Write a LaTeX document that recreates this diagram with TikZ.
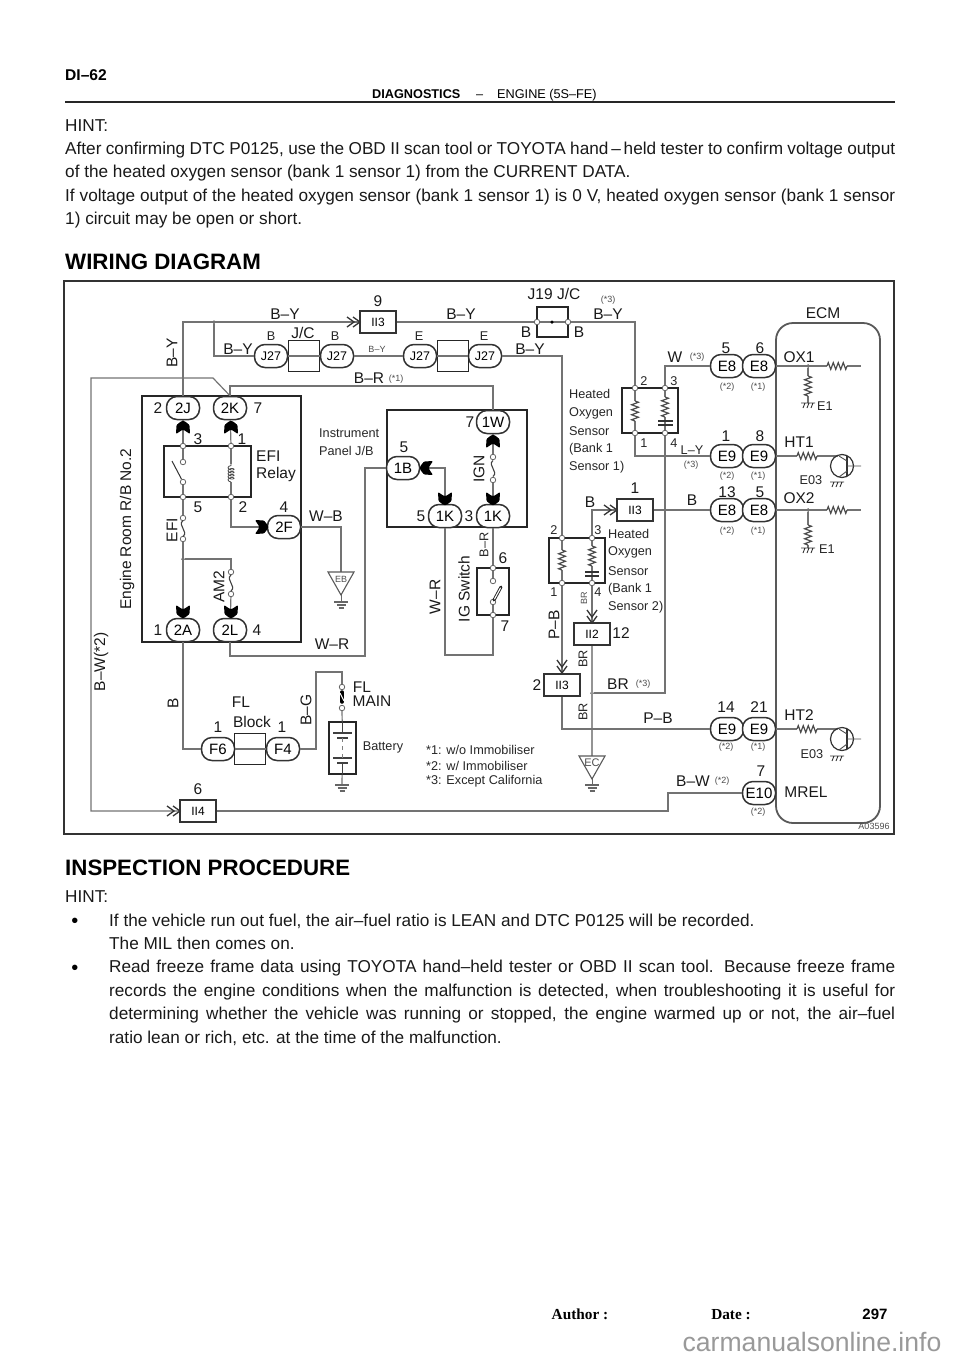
\documentclass[tikz,border=0pt]{standalone}
\usepackage{fontspec}
\setmainfont{Liberation Sans}
\newfontfamily\timesfont{Liberation Serif}
\usetikzlibrary{decorations.pathmorphing}
\newcommand{\fsz}[1]{\fontsize{#1}{#1}\selectfont}
\hyphenpenalty=10000

\tikzset{
  wire/.style = {line width = 1.2pt, draw = black!55},
  thickwire/.style = {line width = 1.7pt, draw = black!42},
  panel/.style = {line width = 1.5pt, draw = black!85},
  conn/.style = {draw = black!80, line width = 1.5pt, fill = white, rounded corners = 10.5pt,
    minimum width = 33pt, minimum height = 23pt, inner sep = 0pt, font = \fsz{15}},
  connj/.style = {conn, font = \fsz{12.5}},
  boxconn/.style = {draw = black!80, line width = 1.5pt, fill = white, minimum width = 36pt,
    minimum height = 22pt, inner sep = 0pt, font = \fsz{12}},
  jbox/.style = {draw = black!85, line width = 1.5pt, minimum width = 31pt, minimum height = 31pt},
  term/.style = {circle, draw = black!60, line width = .8pt, fill = white, minimum size = 5.5pt, inner sep = 0pt},
  dot/.style = {circle, fill = black, minimum size = 3.5pt, inner sep = 0pt},
  lab/.style = {inner sep = 0pt, font = \fsz{15.5}, text = black!90},
  labm/.style = {inner sep = 0pt, font = \fsz{12.7}, text = black!85},
  labs/.style = {inner sep = 0pt, font = \fsz{9}, text = black!70},
  body/.style = {inner sep = 0pt, anchor = north west, font = \fontsize{17.2}{23.4}\selectfont, text = black!90},
  % connector marks, all pointing along +x with the origin at the tip
  chev/.pic = {
    \draw[line width = 1.3pt, black!80] (-7,-5) -- (0,0) -- (-7,5) (-13,-5) -- (-6,0) -- (-13,5);
  },
  bhead/.pic = {
    \fill[black, rounded corners = 1pt] (0,-1.5) -- (-4,-6.5) -- (-13,-7) -- (-9,-1) -- (-9,1) -- (-13,7) -- (-4,6.5) -- (0,1.5) -- cycle;
  },
  res/.pic = {
    \draw[white, line width = 2.4pt] (-10,0) -- (10,0);
    \draw[line width = 1.2pt, black!70, decorate, decoration = {zigzag, segment length = 5pt, amplitude = 3.4pt}] (-10,0) -- (10,0);
  },
  fuse/.pic = {
    \draw[line width = 1.1pt, black!75] (-8,0) .. controls (-3,6) and (3,-6) .. (8,0);
  },
  coilp/.pic = {
    \draw[white, line width = 2.4pt] (-9,0) -- (9,0);
    \draw[line width = .8pt, black!70, decorate, decoration = {coil, segment length = 3pt, amplitude = 3pt}] (-9,0) -- (9,0);
  },
  gnd/.pic = {
    \draw[line width = 1.1pt, black!60] (-7,0) -- (7,0) (-4.5,3) -- (4.5,3) (-2.5,6) -- (2.5,6);
  },
  hatchg/.pic = {
    \draw[line width = .9pt, black!80] (-7,0) -- (7,0) (-3,0) -- (-5,5) (1,0) -- (-1,5) (5,0) -- (3,5);
  },
  gtri/.pic = {
    \draw[line width = 1.1pt, black!65] (-13,0) -- (13,0) -- (0,23) -- cycle;
    \draw[line width = 1pt, black!60] (0,23) -- (0,30);
  },
  tran/.pic = {
    \draw[line width = 1.2pt, black!80] (0,0) circle (11.5pt);
    \draw[line width = 1.3pt, black!80] (5,-10) -- (5,10);
    \draw[line width = .9pt, black!70] (5,0) -- (19,0) (5,-5) -- (-3,-10) (5,5) -- (-3,11);
  }
}

\begin{document}
\begin{tikzpicture}[x = 1pt, y = -1pt]
  \useasboundingbox (0,0) rectangle (960,1358);

  % page head
  \node[inner sep = 0pt, anchor = west, font = \fsz{15.6}\bfseries] (head) at (65,75) {DI–62};
  \node[inner sep = 0pt, anchor = base west, font = \fsz{12.7}\bfseries] (headb) at (372,98.5) {DIAGNOSTICS};
  \node[inner sep = 0pt, anchor = base west, font = \fsz{12.7}] (headc) at (476,98.5) {–};
  \node[inner sep = 0pt, anchor = base west, font = \fsz{12.7}] (headd) at (497,98.5) {ENGINE (5S–FE)};
  \coordinate (ruleL) at (65,102);
  \coordinate (ruleR) at (895,102);
  \draw[line width = 1.5pt, black!85] (ruleL) -- (ruleR);
  \node[body, text width = 830pt, align = justify] (hint) at (65,119) {HINT:\\
    After confirming DTC P0125, use the OBD II scan tool or TOYOTA hand\,–\,held tester to confirm voltage output\linebreak
    of the heated oxygen sensor (bank 1 sensor 1) from the CURRENT DATA.\\
    If voltage output of the heated oxygen sensor (bank 1 sensor 1) is 0 V, heated oxygen sensor (bank 1 sensor\linebreak
    1) circuit may be open or short.};
  \node[inner sep = 0pt, anchor = west, font = \fsz{22.3}\bfseries] (wirhead) at (65,262) {WIRING DIAGRAM};

  % frame and big boxes
  \draw[line width = 1.4pt, black!80] (64,281) rectangle (894,834);
  \draw[panel] (142,396) rectangle (301,642);
  \draw[panel] (164,446) rectangle (251,497);
  \draw[panel] (387,410) rectangle (527,527);
  \draw[panel] (477,568) rectangle (509,615);
  \draw[panel] (622,388) rectangle (678,433);
  \draw[panel] (549,538) rectangle (605,583);
  \draw[panel] (537,307) rectangle (568,337);
  \draw[line width = 1.8pt, black!65, rounded corners = 17pt] (776,323) rectangle (880,823);

  % oval connectors
  \node[conn] (n2J) at (183,408) {2J};
  \node[conn] (n2K) at (230,408) {2K};
  \node[conn] (n2A) at (183,630) {2A};
  \node[conn] (n2L) at (230,630) {2L};
  \node[conn] (n2F) at (284,527) {2F};
  \node[conn] (n1W) at (493,422) {1W};
  \node[conn] (n1B) at (403,468) {1B};
  \node[conn] (n1Ka) at (445,516) {1K};
  \node[conn] (n1Kb) at (493,516) {1K};
  \node[conn] (nF6) at (218,749) {F6};
  \node[conn] (nF4) at (283,749) {F4};
  \node[connj] (nJa) at (271,356) {J27};
  \node[connj] (nJb) at (337,356) {J27};
  \node[connj] (nJc) at (420,356) {J27};
  \node[connj] (nJd) at (485,356) {J27};
  \node[conn] (nE8a) at (727,366) {E8};
  \node[conn] (nE8b) at (759,366) {E8};
  \node[conn] (nE9a) at (727,456) {E9};
  \node[conn] (nE9b) at (759,456) {E9};
  \node[conn] (nE8c) at (727,510) {E8};
  \node[conn] (nE8d) at (759,510) {E8};
  \node[conn] (nE9c) at (727,729) {E9};
  \node[conn] (nE9d) at (759,729) {E9};
  \node[conn] (nE10) at (759,793) {E10};

  % square connectors
  \node[boxconn] (nII3a) at (378,322) {II3};
  \node[boxconn] (nII3b) at (635,510) {II3};
  \node[boxconn] (nII3c) at (562,685) {II3};
  \node[boxconn] (nII2) at (592,634) {II2};
  \node[boxconn] (nII4) at (198,811) {II4};
  \node[jbox] (nJCa) at (304,356) {};
  \node[jbox] (nJCb) at (453,356) {};
  \node[jbox] (nFL) at (250,749) {};
  \node[draw = black!85, line width = 1.3pt, minimum width = 27pt, minimum height = 52pt, inner sep = 0pt] (nBat) at (342.5,748) {};

  % terminals and junctions
  \node[term] (tR3) at (183,446) {};
  \node[term] (tR1) at (231,446) {};
  \node[term] (tR5) at (183,497) {};
  \node[term] (tR2) at (231,497) {};
  \node[term] (tSwa) at (183,462) {};
  \node[term] (tSwb) at (183,482) {};
  \node[term] (tFa) at (183,518) {};
  \node[term] (tFb) at (183,539) {};
  \node[term] (tAa) at (231,572) {};
  \node[term] (tAb) at (231,594) {};
  \node[term] (tIa) at (493,457) {};
  \node[term] (tIb) at (493,480) {};
  \node[term] (tGa) at (493,568) {};
  \node[term] (tGb) at (493,615) {};
  \node[term] (tGc) at (493,581) {};
  \node[term] (tGd) at (493,602) {};
  \node[term] (tMa) at (342,687) {};
  \node[term] (tMb) at (342,708) {};
  \node[term] (tJa) at (537,322) {};
  \node[term] (tJb) at (568,322) {};
  \node[term] (tS2) at (635,388) {};
  \node[term] (tS3) at (665,388) {};
  \node[term] (tS1) at (635,433) {};
  \node[term] (tS4) at (665,433) {};
  \node[term] (tT2) at (562,538) {};
  \node[term] (tT3) at (592,538) {};
  \node[term] (tT1) at (562,583) {};
  \node[term] (tT4) at (592,583) {};
  \node[dot] (dBY) at (214,322) {};
  \node[dot] (dRB) at (183,559) {};
  \node[dot] (dBR) at (592,693) {};
  \node[dot] (dOa) at (808,366) {};
  \node[dot] (dOb) at (808,510) {};

  % free ends and corners
  \coordinate (cBR) at (493,386);
  \coordinate (cLa) at (91,811);
  \coordinate (cLb) at (91,378);
  \coordinate (cLc) at (213,378);
  \coordinate (cEB) at (341,572);
  \coordinate (cWR) at (365,656);
  \coordinate (cIG) at (493,655);
  \coordinate (cFLa) at (316,672);
  \coordinate (cBW) at (668,811);
  \coordinate (cEC) at (592,756);
  \coordinate (cBg) at (342,785);
  \coordinate (cOa) at (861,366);
  \coordinate (cOb) at (861,510);
  \coordinate (cGa) at (808,403);
  \coordinate (cGb) at (808,548);
  \coordinate (cHa) at (838,456);
  \coordinate (cHb) at (838,729);

  % wires
  \draw[wire] (n2J.north) |- (nII3a.west);
  \draw[wire] (dBY) |- (nJa.west);
  \draw[wire] (nJa) -- (nJb);
  \draw[wire] (nJb) -- (nJc);
  \draw[wire] (nJc) -- (nJd);
  \draw[wire] (nJd.east) -| (tT2);
  \draw[wire] (nII3a) -- (tJa);
  \draw[wire] (tJa) -- (tJb);
  \node[dot] (dJ) at (552,322) {};
  \draw[wire] (tJb) -| (tS2);
  \draw[wire] (nE8a.west) -| (tS3);
  \draw[wire] (tS2) -- (tS1);
  \draw[wire] (tS3) -- (tS4);
  \draw[wire] (tS1) |- (nE9a.west);
  \draw[wire] (tS4) |- (dBR);
  \draw[wire] (tT2) -- (tT1);
  \draw[wire] (tT3) -- (tT4);
  \draw[wire] (tT3) |- (nII3b.west);
  \draw[wire] (nII3b) -- (nE8c);
  \draw[wire] (tT4) -- (nII2);
  \draw[thickwire] (nII2) -- (cEC);
  \draw[wire] (tT1) -- (nII3c);
  \draw[wire] (nII3c.south) |- (nE9c.west);
  \draw[wire] (nE10) -| (cBW) -- (nII4);
  \draw[wire] (nII4) -- (cLa) -- (cLb) -- (cLc) -- (n2K.north);
  \draw[wire] (n2K.north) |- (cBR) -- (n1W);
  \draw[wire] (n2J) -- (tR3);
  \draw[wire] (tR3) -- (tSwa);
  \draw[wire] (tSwb) -- (tR5);
  \draw[wire] (tR5) -- (tFa);
  \draw[wire] (tFb) -- (n2A);
  \draw[wire] (n2K) -- (tR1);
  \draw[wire] (tR1) -- (tR2);
  \draw[wire] (tR2) |- (n2F.west);
  \draw[wire] (dRB) -| (tAa);
  \draw[wire] (tAb) -- (n2L);
  \draw[wire] (n2F.east) -| (cEB);
  \draw[wire] (n2L.south) |- (cWR) |- (n1B.west);
  \draw[wire] (n1Ka.north) |- (n1B.east);
  \draw[wire] (n1W) -- (tIa);
  \draw[wire] (tIb) -- (n1Kb);
  \draw[wire] (n1Ka.south) |- (cIG) -- (tGb);
  \draw[wire] (n1Kb) -- (tGa);
  \draw[wire] (tGa) -- (tGc);
  \draw[wire] (tGd) -- (tGb);
  \draw[wire] (n2A.south) |- (nF6.west);
  \draw[wire] (nF6) -- (nF4);
  \draw[wire] (nF4.east) -| (cFLa) -| (tMa);
  \draw[wire] (tMb) -- (nBat);
  \draw[wire] (nBat) -- (cBg);
  \draw[wire] (nE8b) -- (cOa);
  \draw[wire] (dOa) -- (cGa);
  \draw[wire] (nE9b) -- (cHa);
  \draw[wire] (nE8d) -- (cOb);
  \draw[wire] (dOb) -- (cGb);
  \draw[wire] (nE9d) -- (cHb);

  % connector marks
  \pic at (360,322) {chev};
  \pic at (617,510) {chev};
  \pic at (180,811) {chev};
  \pic[rotate = -90] at (592,623) {chev};
  \pic[rotate = -90] at (562,673) {chev};
  \pic[rotate = 90] at (183,421) {bhead};
  \pic[rotate = 90] at (231,421) {bhead};
  \pic[rotate = -90] at (183,618) {bhead};
  \pic[rotate = -90] at (231,618) {bhead};
  \pic at (268,527) {bhead};
  \pic[rotate = 90] at (493,435) {bhead};
  \pic[rotate = -90] at (493,505) {bhead};
  \pic[rotate = -90] at (445,505) {bhead};
  \pic[rotate = 180] at (420,468) {bhead};

  % parts
  \pic[rotate = 90] at (635,411) {res};
  \pic[rotate = 90] at (665,407) {res};
  \pic[rotate = 90] at (562,560) {res};
  \pic[rotate = 90] at (592,556) {res};
  \pic[rotate = 90] at (231,473) {coilp};
  \pic at (837,366) {res};
  \pic[rotate = 90] at (808,386) {res};
  \pic at (807,456) {res};
  \pic at (837,510) {res};
  \pic[rotate = 90] at (808,535) {res};
  \pic at (807,729) {res};
  \pic[rotate = 90] at (183,528.5) {fuse};
  \pic[rotate = 90] at (231,583) {fuse};
  \pic[rotate = 90] at (493,468.5) {fuse};
  \pic at (842,466) {tran};
  \pic at (842,739) {tran};
  \pic at (cEB) {gtri};
  \pic at (cEC) {gtri};
  \pic at (341,602) {gnd};
  \pic at (592,785) {gnd};
  \pic at (cBg) {gnd};
  \pic at (cGa) {hatchg};
  \pic at (cGb) {hatchg};
  \pic at (837,482) {hatchg};
  \pic at (837,756) {hatchg};
  \draw[line width = 1.1pt, black!80] (658,421) -- (673,421) (658,425) -- (673,425);
  \draw[line width = 1.1pt, black!80] (585,572) -- (599,572) (585,576) -- (599,576);
  \draw[line width = 1pt, black!80] (tSwb) -- (172,461);
  \draw[line width = 3pt, black!85, line cap = round] (494,600) -- (501,587);
  \draw[line width = 1.1pt, white, line cap = round] (494.5,599) -- (500.5,588);
  \draw[line width = 3.5pt, black, line cap = round] (342,692) -- (342,702);
  \draw[line width = 1pt, white] (340,693) -- (344,701);
  \draw[line width = 1pt, black!75] (342,722) -- (342,733) (342,763) -- (342,774);
  \draw[line width = 1.4pt, black!75] (333,733) -- (352,733) (333,758) -- (352,758);
  \draw[line width = 1.4pt, black!75] (337,738) -- (348,738) (337,763) -- (348,763);
  \draw[line width = 1pt, black!50, dash pattern = on 4pt off 4pt] (342,738) -- (342,758);

  % wire colours, big
  \node[lab] (lbY) at (285,314) {B–Y};
  \node[lab, rotate = 90] (lbYb) at (172,353) {B–Y};
  \node[lab] (lbYc) at (238,349) {B–Y};
  \node[lab] (lbYd) at (461,314) {B–Y};
  \node[lab] (lbYe) at (608,314) {B–Y};
  \node[lab] (lbYf) at (530,349) {B–Y};
  \node[lab] (lbR) at (369,378) {B–R};
  \node[lab] (lWB) at (326,516) {W–B};
  \node[lab] (lWR) at (332,644) {W–R};
  \node[lab, rotate = 90] (lWRb) at (435,597) {W–R};
  \node[lab, rotate = 90] (lBG) at (306,710) {B–G};
  \node[lab, rotate = 90] (lB) at (173,703) {B};
  \node[lab, rotate = 90] (lBW) at (101,662) {B–W(*2)};
  \node[lab, rotate = 90] (lPB) at (554,625) {P–B};
  \node[lab] (lPBb) at (658,718) {P–B};
  \node[lab] (lBRa) at (618,684) {BR};
  \node[lab] (lW) at (675,357) {W};
  \node[lab] (lBa) at (590,502) {B};
  \node[lab] (lBb) at (692,500) {B};
  \node[lab] (lBWb) at (693,781) {B–W};
  \node[labm] (lLY) at (692,450) {L–Y};
  \node[labm, rotate = 90] (lBRb) at (583,659) {BR};
  \node[labm, rotate = 90] (lBRc) at (583,712) {BR};
  \node[labm, rotate = 90] (lBRd) at (484,545) {B–R};
  \node[labs, rotate = 90] (lBRe) at (584,598) {BR};
  \node[labs] (lBYs) at (377,349) {B–Y};

  % names
  \node[lab, rotate = 90] (lRB) at (127,529) {Engine Room R/B No.2};
  \node[lab, rotate = 90] (lIG) at (464,589) {IG Switch};
  \node[lab, anchor = west] (lEFIa) at (256,456) {EFI};
  \node[lab, anchor = west] (lEFIb) at (256,474) {Relay};
  \node[lab, rotate = 90] (lEFI) at (172,530) {EFI};
  \node[lab, rotate = 90] (lAM) at (219,587) {AM2};
  \node[lab, rotate = 90] (lIGN) at (479,469) {IGN};
  \node[lab] (lJC) at (303,333) {J/C};
  \node[lab] (lJ19) at (554,294) {J19 J/C};
  \node[lab] (lECM) at (823,313) {ECM};
  \node[lab] (lFLb) at (241,702) {FL};
  \node[lab] (lBlock) at (252,722) {Block};
  \node[lab] (lFLm) at (362,687) {FL};
  \node[lab] (lMain) at (372,701) {MAIN};
  \node[lab] (lOXa) at (799,357) {OX1};
  \node[lab] (lHTa) at (799,442) {HT1};
  \node[lab] (lOXb) at (799,498) {OX2};
  \node[lab] (lHTb) at (799,715) {HT2};
  \node[lab] (lMREL) at (806,792) {MREL};
  \node[labm, anchor = west] (lInsa) at (319,433) {Instrument};
  \node[labm, anchor = west] (lInsb) at (319,451) {Panel J/B};
  \node[labm] (lBat) at (383,747) {Battery};
  \node[labm, anchor = west] (lKa) at (426,750) {*1: w/o Immobiliser};
  \node[labm, anchor = west] (lKb) at (426,766) {*2: w/ Immobiliser};
  \node[labm, anchor = west] (lKc) at (426,781) {*3: Except California};
  \node[labm, anchor = west] (lSa1) at (569,394) {Heated};
  \node[labm, anchor = west] (lSa2) at (569,413) {Oxygen};
  \node[labm, anchor = west] (lSa3) at (569,431) {Sensor};
  \node[labm, anchor = west] (lSa4) at (569,449) {(Bank 1};
  \node[labm, anchor = west] (lSa5) at (569,467) {Sensor 1)};
  \node[labm, anchor = west] (lSb1) at (608,534) {Heated};
  \node[labm, anchor = west] (lSb2) at (608,552) {Oxygen};
  \node[labm, anchor = west] (lSb3) at (608,571) {Sensor};
  \node[labm, anchor = west] (lSb4) at (608,589) {(Bank 1};
  \node[labm, anchor = west] (lSb5) at (608,607) {Sensor 2)};
  \node[labm] (lE1a) at (825,406) {E1};
  \node[labm] (lE1b) at (827,549) {E1};
  \node[labm] (lE3a) at (811,480) {E03};
  \node[labm] (lE3b) at (812,754) {E03};
  \node[labm] (lJBa) at (271,336) {B};
  \node[labm] (lJBb) at (335,336) {B};
  \node[labm] (lJEa) at (419,336) {E};
  \node[labm] (lJEb) at (484,336) {E};
  \node[lab] (lBc) at (526,332) {B};
  \node[lab] (lBd) at (579,332) {B};
  \node[labs] (lEB) at (341,579) {EB};
  \node[labs, font = \fsz{11}] (lEC) at (592,763) {EC};
  \node[labs] (lA03) at (874,826) {A03596};

  % pin numbers
  \node[lab] (p9) at (378,301) {9};
  \node[lab] (p2J) at (158,408) {2};
  \node[lab] (p7) at (258,408) {7};
  \node[lab] (p3) at (198,439) {3};
  \node[lab] (p1) at (242,439) {1};
  \node[lab] (p5) at (198,507) {5};
  \node[lab] (p2) at (243,507) {2};
  \node[lab] (p4) at (284,507) {4};
  \node[lab] (p1A) at (158,630) {1};
  \node[lab] (p4L) at (257,630) {4};
  \node[lab] (p1F) at (218,727) {1};
  \node[lab] (p1G) at (282,727) {1};
  \node[lab] (p6) at (198,789) {6};
  \node[lab] (p7W) at (470,422) {7};
  \node[lab] (p5B) at (404,447) {5};
  \node[lab] (p5K) at (421,516) {5};
  \node[lab] (p3K) at (469,516) {3};
  \node[lab] (p6G) at (503,558) {6};
  \node[lab] (p7G) at (505,626) {7};
  \node[lab] (p1I) at (635,488) {1};
  \node[lab] (p12) at (621,633) {12};
  \node[lab] (p2I) at (537,685) {2};
  \node[lab] (p5E) at (726,348) {5};
  \node[lab] (p6E) at (760,348) {6};
  \node[lab] (p1E) at (726,436) {1};
  \node[lab] (p8E) at (760,436) {8};
  \node[lab] (p13) at (727,492) {13};
  \node[lab] (p5F) at (760,492) {5};
  \node[lab] (p14) at (726,707) {14};
  \node[lab] (p21) at (759,707) {21};
  \node[lab] (p7E) at (761,771) {7};
  \node[labm] (pS2) at (644,381) {2};
  \node[labm] (pS3) at (674,381) {3};
  \node[labm] (pS1) at (644,443) {1};
  \node[labm] (pS4) at (674,443) {4};
  \node[labm] (pT2) at (554,530) {2};
  \node[labm] (pT3) at (598,530) {3};
  \node[labm] (pT1) at (554,592) {1};
  \node[labm] (pT4) at (598,592) {4};

  % footnote marks
  \node[labs] (fa) at (396,379) {(*1)};
  \node[labs] (fb) at (608,300) {(*3)};
  \node[labs] (fc) at (697,357) {(*3)};
  \node[labs] (fd) at (691,465) {(*3)};
  \node[labs] (fe) at (643,684) {(*3)};
  \node[labs] (ff) at (722,781) {(*2)};
  \node[labs] (f1) at (727,387) {(*2)};
  \node[labs] (f2) at (758,387) {(*1)};
  \node[labs] (f3) at (727,476) {(*2)};
  \node[labs] (f4) at (758,476) {(*1)};
  \node[labs] (f5) at (727,531) {(*2)};
  \node[labs] (f6) at (758,531) {(*1)};
  \node[labs] (f7) at (726,747) {(*2)};
  \node[labs] (f8) at (758,747) {(*1)};
  \node[labs] (f9) at (758,812) {(*2)};

  % lower text
  \node[inner sep = 0pt, anchor = west, font = \fsz{22.3}\bfseries] (insp) at (65,868) {INSPECTION PROCEDURE};
  \node[body] (hintb) at (65,890.5) {HINT:};
  \node[inner sep = 0pt, font = \fsz{20}] (bula) at (75,923) {•};
  \node[inner sep = 0pt, font = \fsz{20}] (bulb) at (75,970) {•};
  \node[body, text width = 786pt, align = justify] (lista) at (109,913.5) {If the vehicle run out fuel, the air–fuel ratio is LEAN and DTC P0125 will be recorded.\\
    The MIL then comes on.\\
    Read freeze frame data using TOYOTA hand–held tester or OBD II scan tool. Because freeze frame\linebreak
    records the engine conditions when the malfunction is detected, when troubleshooting it is useful for\linebreak
    determining whether the vehicle was running or stopped, the engine warmed up or not, the air–fuel\linebreak
    ratio lean or rich, etc. at the time of the malfunction.};

  % page foot
  \node[inner sep = 0pt, anchor = base, font = \timesfont\fsz{15.3}\bfseries] (auth) at (580,1319) {Author :};
  \node[inner sep = 0pt, anchor = base, font = \timesfont\fsz{15.3}\bfseries] (date) at (731,1319) {Date :};
  \node[inner sep = 0pt, anchor = base, font = \fsz{15}\bfseries] (page) at (875,1319) {297};
  \node[inner sep = 0pt, font = \fsz{26.6}, text = black!40] (mark) at (812,1342) {carmanualsonline.info};
\end{tikzpicture}
\end{document}
